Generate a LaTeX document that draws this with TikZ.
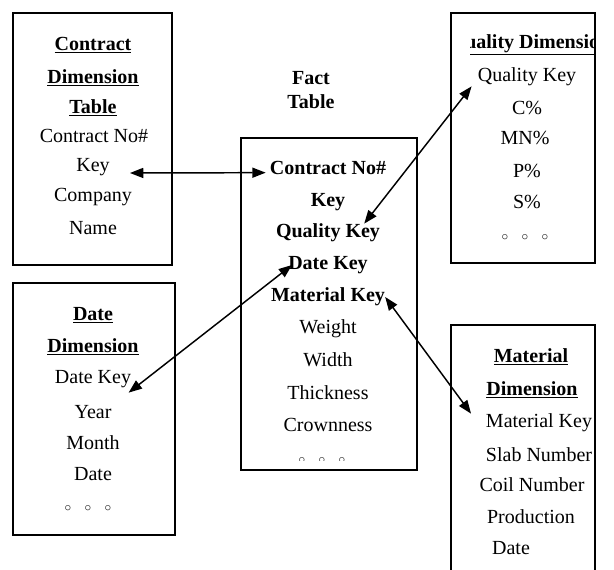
\documentclass[tikz,border=0pt]{standalone}
\usepackage{fontspec}
\setmainfont{Liberation Serif}
\usetikzlibrary{arrows.meta}

\begin{document}
\begin{tikzpicture}[x=0.75pt,y=0.75pt,yscale=-1,xscale=1,
    tbl/.style={line width=1.1pt},
    itm/.style={inner sep=0pt, font=\fontsize{15}{18}\selectfont},
    key/.style={inner sep=0pt, font=\fontsize{15}{18}\selectfont\bfseries},
    dots/.style={inner sep=0pt, font=\fontsize{10}{12}\selectfont},
    link/.style={line width=1.1pt, {Triangle[length=10pt,width=7.5pt]}-{Triangle[length=10pt,width=7.5pt]}}]
    \useasboundingbox (0,0) rectangle (614,570);

    %Contract Dimension Table
    \draw [tbl] (13,13) -- (172,13) -- (172,265) -- (13,265) -- cycle ;
    % Text Node
    \draw (93,45) node (ctitle1) [key] {\underline{Contract}};
    \draw (93,78) node (ctitle2) [key] {\underline{Dimension}};
    \draw (93,108) node (ctitle3) [key] {\underline{Table}};
    \draw (94,136) node (cno) [itm] {Contract No\#};
    \draw (93,167) node (ckey) [itm] {Key};
    \draw (93,197) node (ccomp) [itm] {Company};
    \draw (93,228) node (cname) [itm] {Name};

    %Quality Dimension
    \draw [tbl] (451,13) -- (595,13) -- (595,263) -- (451,263) -- cycle ;
    % Text Node
    \begin{scope}
      \clip (470,30) rectangle (594,62);
      \draw (530,45) node (qtitle) [key] {\underline{Quality Dimension}};
    \end{scope}
    \draw (527,77) node (qkey) [itm] {Quality Key};
    \draw (527,108) node (qc) [itm] {C\%};
    \draw (525,138) node (qmn) [itm] {MN\%};
    \draw (527,171) node (qp) [itm] {P\%};
    \draw (527,202) node (qs) [itm] {S\%};
    \draw (525,238) node (qdots) [dots] {$\circ$\hspace{10pt}$\circ$\hspace{10pt}$\circ$};

    %Date Dimension
    \draw [tbl] (13,283) -- (175,283) -- (175,535) -- (13,535) -- cycle ;
    % Text Node
    \draw (93,315) node (dtitle1) [key] {\underline{Date}};
    \draw (93,347) node (dtitle2) [key] {\underline{Dimension}};
    \draw (93,379) node (dkey) [itm] {Date Key};
    \draw (93,412) node (dyear) [itm] {Year};
    \draw (93,443) node (dmonth) [itm] {Month};
    \draw (93,474) node (ddate) [itm] {Date};
    \draw (88,509) node (ddots) [dots] {$\circ$\hspace{10pt}$\circ$\hspace{10pt}$\circ$};

    %Fact Table
    \draw (311,78) node (ftitle1) [key] {Fact};
    \draw (311,102) node (ftitle2) [key] {Table};
    \draw [tbl] (241,138) -- (417,138) -- (417,470) -- (241,470) -- cycle ;
    % Text Node
    \draw (328,168) node (fcno) [key] {Contract No\#};
    \draw (328,202) node (fckey) [key] {Key};
    \draw (328,233) node (fqk) [key] {Quality Key};
    \draw (328,265) node (fdk) [key] {Date Key};
    \draw (328,297) node (fmk) [key] {Material Key};
    \draw (328,329) node (fweight) [itm] {Weight};
    \draw (328,360) node (fwidth) [itm] {Width};
    \draw (328,393) node (fthick) [itm] {Thickness};
    \draw (328,425) node (fcrown) [itm] {Crownness};
    \begin{scope}
      \clip (245,440) rectangle (413,460);
      \draw (322,461) node (fdots) [dots] {$\circ$\hspace{10pt}$\circ$\hspace{10pt}$\circ$};
    \end{scope}

    %Material Dimension
    \draw [tbl] (451,570) -- (451,325) -- (595,325) -- (595,570) ;
    % Text Node
    \draw (531,357) node (mtitle1) [key] {\underline{Material}};
    \draw (532,390) node (mtitle2) [key] {\underline{Dimension}};
    \draw (539,423) node (mkey) [itm] {Material Key};
    \draw (539,455) node (mslab) [itm] {Slab Number};
    \draw (532,485) node (mcoil) [itm] {Coil Number};
    \draw (531,517) node (mprod) [itm] {Production};
    \draw (511,548) node (mdate) [itm] {Date};

    %Arrows
    \draw [link] ([xshift=15pt,yshift=4.5pt]ckey.east) -- ([xshift=-3pt,yshift=3.5pt]fcno.west);
    \draw [link] ([xshift=-12pt]fqk.north east) -- ([xshift=-4.5pt]qkey.south west);
    \draw [link] ([xshift=3pt]fdk.west) -- ([xshift=-2pt,yshift=3.5pt]dkey.south east);
    \draw [link] (fmk.east) -- ([xshift=-11pt]mkey.north west);

\end{tikzpicture}
\end{document}
